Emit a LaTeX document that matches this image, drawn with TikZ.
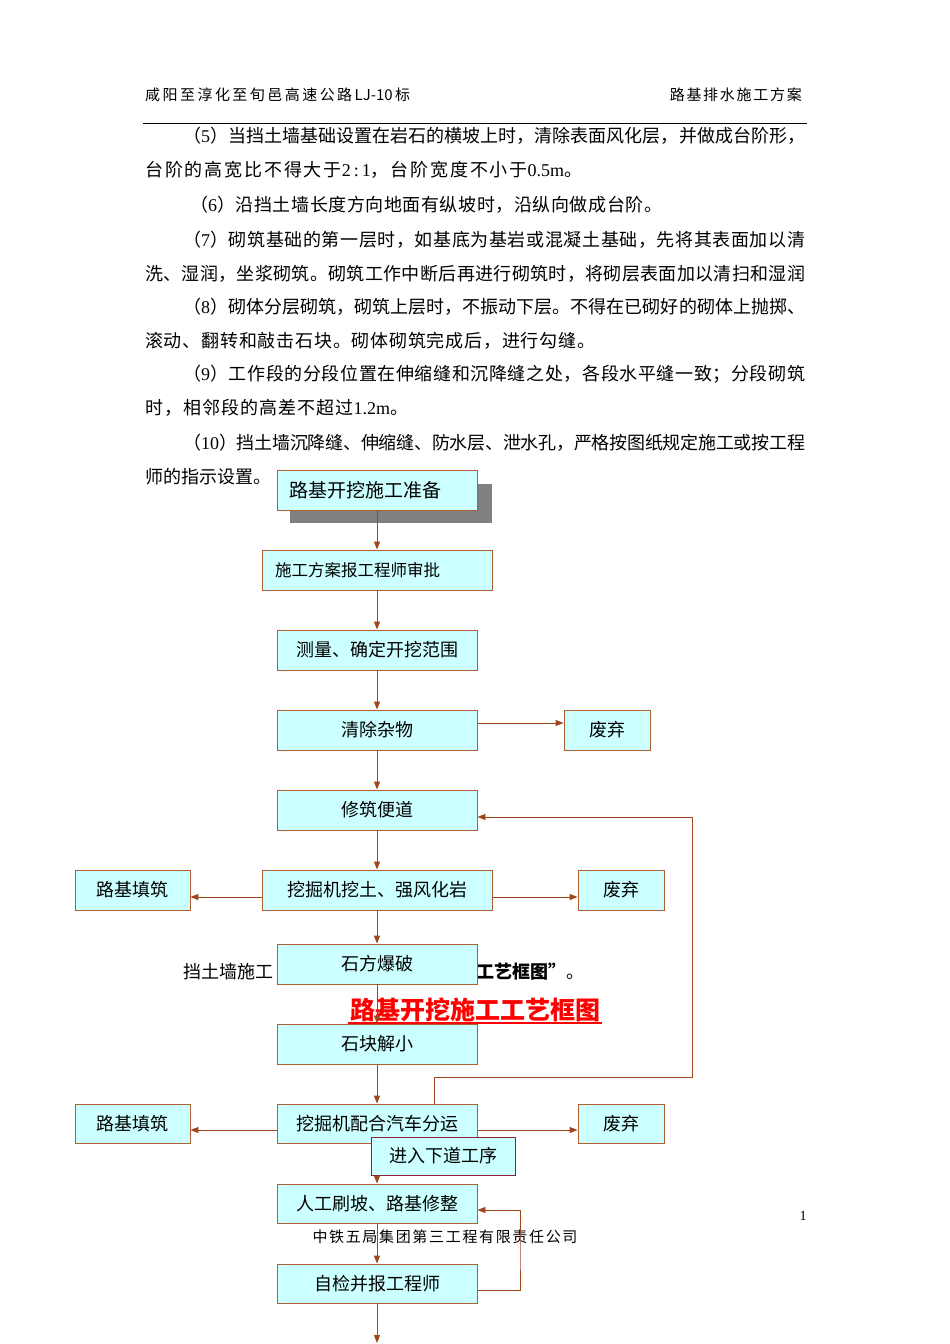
\documentclass[tikz,border=0pt]{standalone}
\usepackage{fontspec}
\setmainfont{Liberation Serif}
\newfontfamily\cjk{Noto Sans CJK SC}
\usetikzlibrary{arrows.meta}
\definecolor{boxfill}{HTML}{CCFFFF}
\definecolor{boxline}{HTML}{B0602E}
\definecolor{flowline}{HTML}{A0451C}
\definecolor{nextline}{HTML}{8B2330}
% glue between CJK characters, so that \makebox[..][s] can spread a line
\makeatletter
\count@="4E00
\loop\ifnum\count@<"A000 \XeTeXcharclass\count@=1 \advance\count@ by 1 \repeat
\makeatother
\XeTeXcharclass"FF08=2 \XeTeXcharclass"FF09=3 \XeTeXcharclass"FF0C=3
\XeTeXcharclass"3002=3 \XeTeXcharclass"3001=3 \XeTeXcharclass"FF1B=3
\XeTeXcharclass"201D=3
\newcommand{\cjkglue}{\hskip 0pt plus 1pt minus 0.5pt}
\XeTeXinterchartokenstate=1
\XeTeXinterchartoks 1 1 = {\cjkglue}
\XeTeXinterchartoks 1 2 = {\cjkglue}
\XeTeXinterchartoks 1 3 = {\cjkglue}
\XeTeXinterchartoks 2 1 = {\cjkglue}
\XeTeXinterchartoks 3 1 = {\cjkglue}
\XeTeXinterchartoks 3 2 = {\cjkglue}
\XeTeXinterchartoks 3 3 = {\cjkglue}
\XeTeXinterchartoks 1 0 = {\cjkglue}
\XeTeXinterchartoks 0 1 = {\cjkglue}
\XeTeXinterchartoks 3 0 = {\cjkglue}
\XeTeXinterchartoks 0 3 = {\cjkglue}
\XeTeXinterchartoks 2 0 = {\cjkglue}
\newcommand{\lat}[1]{{\rmfamily #1}}

\begin{document}
\begin{tikzpicture}[x=1pt,y=-1pt,
  txt/.style={anchor=west,inner sep=0pt,font=\cjk\fontsize{18}{18}\selectfont},
  box/.style={draw=boxline,fill=boxfill,line width=0.9pt,minimum width=200,
    minimum height=40,inner sep=0pt,font=\cjk\fontsize{18}{18}\selectfont},
  flow/.style={draw=flowline,line width=0.9pt,-{Triangle[length=8pt,width=6pt]}}]
\fill[white] (0,0) rectangle (950,1344);
\useasboundingbox (0,0) rectangle (950,1344);
% header and footer
\node[txt,font=\cjk\fontsize{15}{15}\selectfont] (hdleft) at (145,95)
  {\makebox[265pt][s]{咸阳至淳化至旬邑高速公路LJ-10标}};
\node[txt,anchor=east,font=\cjk\fontsize{15}{15}\selectfont] (hdright) at (802,95)
  {\makebox[132pt][s]{路基排水施工方案}};
\draw[line width=0.8pt] (143,123) -- (807,123);
\node[txt,anchor=center,font=\cjk\fontsize{15}{15}\selectfont] (foot) at (445,1237)
  {\makebox[265pt][s]{中铁五局集团第三工程有限责任公司}};
\node[txt,anchor=center,font=\fontsize{14}{14}\selectfont] (pageno) at (803,1216) {1};
% body text
\node[txt] (l1) at (183,136) {\makebox[622pt][s]{（\lat{5}）当挡土墙基础设置在岩石的横坡上时，清除表面风化层，并做成台阶形，}};
\node[txt] (l2) at (145,170) {\makebox[437pt][s]{台阶的高宽比不得大于\lat{2\,:\,1}，台阶宽度不小于\lat{0.5m}。}};
\node[txt] (l3) at (190,205) {\makebox[472pt][s]{（\lat{6}）沿挡土墙长度方向地面有纵坡时，沿纵向做成台阶。}};
\node[txt] (l4) at (183,240) {\makebox[622pt][s]{（\lat{7}）砌筑基础的第一层时，如基底为基岩或混凝土基础，先将其表面加以清}};
\node[txt] (l5) at (145,274) {\makebox[660pt][s]{洗、湿润，坐浆砌筑。砌筑工作中断后再进行砌筑时，将砌层表面加以清扫和湿润}};
\node[txt] (l6) at (183,307) {\makebox[622pt][s]{（\lat{8}）砌体分层砌筑，砌筑上层时，不振动下层。不得在已砌好的砌体上抛掷、}};
\node[txt] (l7) at (145,341) {\makebox[450pt][s]{滚动、翻转和敲击石块。砌体砌筑完成后，进行勾缝。}};
\node[txt] (l8) at (183,374) {\makebox[622pt][s]{（\lat{9}）工作段的分段位置在伸缩缝和沉降缝之处，各段水平缝一致；分段砌筑}};
\node[txt] (l9) at (145,408) {\makebox[263pt][s]{时，相邻段的高差不超过\lat{1.2m}。}};
\node[txt] (l10) at (183,443) {\makebox[622pt][s]{（\lat{10}）挡土墙沉降缝、伸缩缝、防水层、泄水孔，严格按图纸规定施工或按工程}};
\node[txt] (l11) at (145,477) {师的指示设置。};
\node[txt] (l12) at (183,972) {挡土墙施工};
\node[txt] (l12r) at (476,972) {\bfseries 工艺框图”\mdseries 。};
% title
\node[txt,anchor=center,text=red,font=\cjk\bfseries\fontsize{25}{25}\selectfont] (title) at (475,1010) {路基开挖施工工艺框图};
\draw[red,line width=1.2pt] (348,1023) -- (602,1023);
% flow boxes
\fill[gray] (290,484) rectangle (492,523);
\node[box] (prep) at (377,490) {\fontsize{19}{19}\selectfont\makebox[176pt][l]{路基开挖施工准备}};
\node[box,minimum width=230] (plan) at (377,570) {\fontsize{16.5}{16.5}\selectfont\makebox[204pt][l]{施工方案报工程师审批}};
\node[box] (survey) at (377,650) {测量、确定开挖范围};
\node[box] (clear) at (377,730) {清除杂物};
\node[box,minimum width=86] (waste1) at (607,730) {废弃};
\node[box] (road) at (377,810) {修筑便道};
\node[box,minimum width=230] (dig) at (377,890) {挖掘机挖土、强风化岩};
\node[box,minimum width=115] (fill1) at (132.5,890) {路基填筑};
\node[box,minimum width=86] (waste2) at (621,890) {废弃};
\node[box] (blast) at (377,964) {\raisebox{2pt}{石方爆破}};
\node[box] (break) at (377,1044) {石块解小};
\node[box,minimum height=39] (load) at (377,1123.5) {挖掘机配合汽车分运};
\node[box,minimum width=115,minimum height=39] (fill2) at (132.5,1123.5) {路基填筑};
\node[box,minimum width=86,minimum height=39] (waste3) at (621,1123.5) {废弃};
\node[box,minimum height=39] (trim) at (377,1203.5) {人工刷坡、路基修整};
\node[box,minimum height=39] (check) at (377,1283.5) {自检并报工程师};
\coordinate (fbturn) at (692,1077);
\coordinate (loopturn) at (520,1250);
\coordinate (exitpt) at (377,1343);
% connectors
\draw[flow] (prep) -- (plan);
\draw[flow] (plan) -- (survey);
\draw[flow] (survey) -- (clear);
\draw[flow] ([yshift=7pt]clear.east) -- ([yshift=7pt]waste1.west);
\draw[flow] (clear) -- (road);
\draw[flow] (road) -- (dig);
\draw[flow] ([yshift=-7pt]dig.west) -- ([yshift=-7pt]fill1.east);
\draw[flow] ([yshift=-7pt]dig.east) -- ([yshift=-7pt]waste2.west);
\draw[flow] (dig) -- (blast);
\draw[flow] (blast) -- (break);
\draw[flow] (break) -- (load);
\draw[flow] ([yshift=-6.5pt]load.west) -- ([yshift=-6.5pt]fill2.east);
\draw[flow] ([yshift=-6.5pt]load.east) -- ([yshift=-6.5pt]waste3.west);
\draw[flow] ([xshift=57pt]load.north) |- (fbturn) |- ([yshift=-7pt]road.east);
\draw[flow] (load) -- (trim);
\draw[flow] (trim) -- (check);
\draw[flow] ([yshift=-6.5pt]check.east) -| (loopturn) |- ([yshift=-6.5pt]trim.east);
\draw[flow] (check) -- (exitpt);
% boxes drawn over the lines
\node[box] at (377,1044) {石块解小};
\node[box,minimum height=39] at (377,1123.5) {挖掘机配合汽车分运};
\node[box,draw=nextline,minimum width=144,minimum height=38] (next) at (443,1156) {进入下道工序};
\end{tikzpicture}
\end{document}
